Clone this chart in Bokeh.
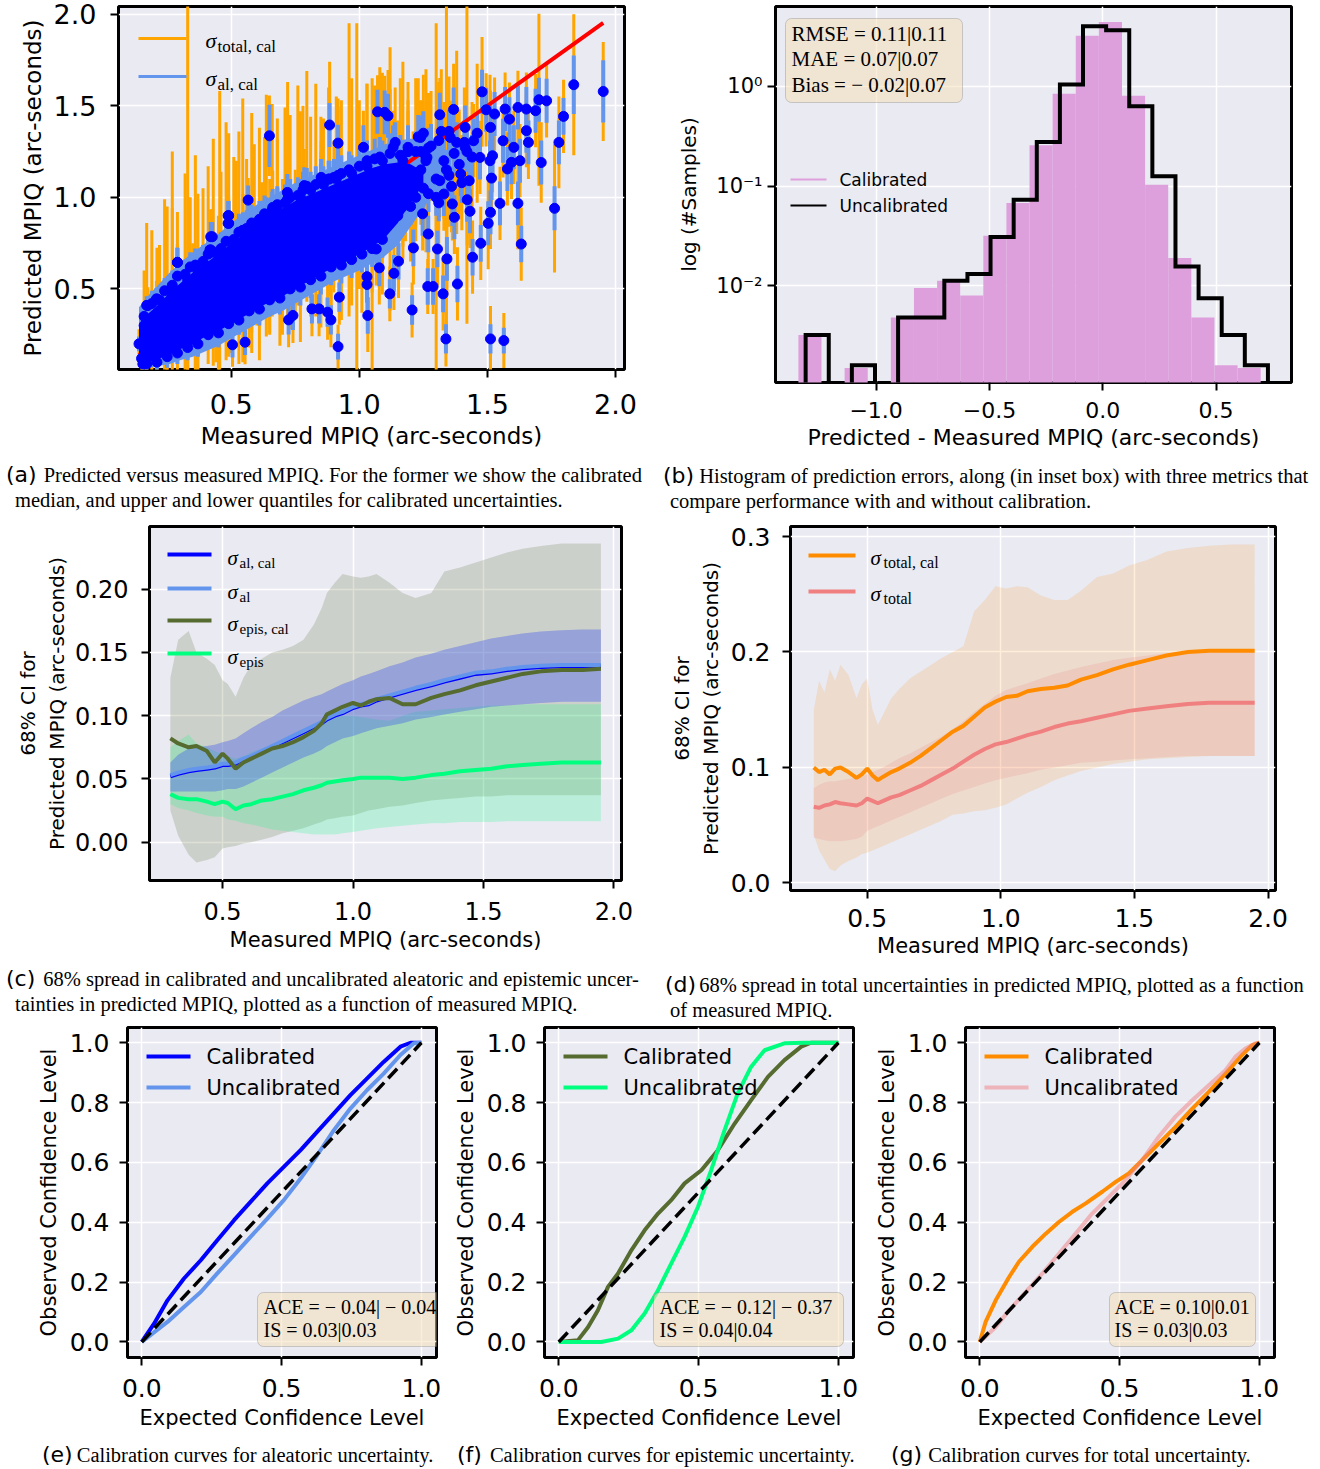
import math
from bokeh.plotting import figure
from bokeh.models import (Range1d, FixedTicker, Label, BoxAnnotation, Div,
                          CustomJSTickFormatter, ColumnDataSource)
from bokeh.layouts import row, column
from bokeh.embed import file_html
from bokeh.resources import INLINE

SANS = "DejaVu Sans"
SERIF = "Liberation Serif"
BG = "#EAEAF2"

# ================= (a) predicted vs measured =================
core_meas = [0.15, 0.16, 0.17, 0.19, 0.21, 0.23, 0.25, 0.27, 0.29, 0.33,
             0.31, 0.37, 0.36, 0.41, 0.42, 0.42, 0.455, 0.44, 0.49, 0.49,
             0.52, 0.50, 0.545, 0.566, 0.59, 0.58, 0.637, 0.65, 0.68, 0.72,
             0.70, 0.77, 0.795, 0.75, 0.85, 0.884, 0.83, 0.917, 0.96, 0.99,
             0.90, 1.03, 1.05, 1.08, 1.12, 1.00, 1.17, 1.15, 1.22, 1.26,
             1.30, 1.34, 1.38, 1.42, 1.46, 1.51, 1.20, 1.25, 1.10, 0.95,
             0.80, 0.60, 0.70, 0.40, 0.30, 0.20, 0.55, 0.65, 0.85, 0.75,
             0.45, 0.35, 0.25, 0.14, 0.155]
core_pred = [0.12, 0.30, 0.41, 0.22, 0.445, 0.35, 0.40, 0.47, 0.645, 0.55,
             0.28, 0.60, 0.22, 0.62, 0.785, 0.713, 0.70, 0.30, 0.90, 0.858,
             0.75, 0.40, 0.82, 0.985, 0.85, 0.45, 0.90, 0.55, 0.95, 0.99,
             0.60, 1.00, 1.06, 0.65, 1.08, 1.10, 0.70, 1.12, 1.15, 0.95,
             0.78, 1.20, 0.85, 1.22, 1.10, 0.80, 1.20, 0.90, 1.25, 1.20,
             1.00, 1.15, 1.30, 1.25, 1.35, 1.20, 0.95, 1.05, 0.95, 0.90,
             0.85, 0.60, 0.80, 0.45, 0.38, 0.18, 0.55, 0.75, 0.95, 0.85,
             0.60, 0.50, 0.27, 0.20, 0.09]
core_err_al = [0.04, 0.05, 0.05, 0.04, 0.06, 0.05, 0.06, 0.07, 0.08, 0.08,
               0.05, 0.08, 0.05, 0.08, 0.08, 0.07, 0.09, 0.06, 0.08, 0.07,
               0.09, 0.07, 0.09, 0.08, 0.09, 0.08, 0.10, 0.08, 0.10, 0.10,
               0.09, 0.10, 0.10, 0.09, 0.10, 0.10, 0.10, 0.10, 0.10, 0.11,
               0.10, 0.11, 0.10, 0.11, 0.10, 0.10, 0.11, 0.10, 0.11, 0.11,
               0.10, 0.11, 0.11, 0.11, 0.11, 0.11, 0.10, 0.10, 0.10, 0.10,
               0.10, 0.08, 0.09, 0.07, 0.06, 0.05, 0.08, 0.09, 0.10, 0.10,
               0.08, 0.07, 0.05, 0.04, 0.04]
core_err_tot = [0.08, 0.12, 0.45, 0.10, 0.28, 0.12, 0.55, 0.78, 0.10, 1.50,
                0.15, 0.42, 0.15, 0.18, 0.15, 0.12, 0.88, 0.20, 0.45, 0.15,
                0.45, 0.25, 0.72, 0.12, 0.44, 0.30, 0.66, 0.30, 0.48, 0.64,
                0.35, 0.47, 0.63, 0.30, 0.36, 0.64, 0.35, 0.42, 0.80, 1.00,
                0.30, 0.42, 0.80, 0.49, 0.72, 0.30, 0.54, 0.30, 0.40, 0.50,
                0.95, 0.90, 0.50, 0.94, 0.38, 0.47, 0.30, 0.25, 0.25, 0.25,
                0.25, 0.30, 0.30, 0.25, 0.20, 0.10, 0.35, 0.35, 0.30, 0.30,
                0.30, 0.25, 0.15, 0.08, 0.06]

# points on the upper / lower rim of the dense cloud
rim_hi_meas = [0.16, 0.19, 0.22, 0.24, 0.27, 0.29, 0.32, 0.34, 0.36, 0.39,
               0.41, 0.43, 0.46, 0.48, 0.51, 0.53, 0.56, 0.58, 0.61, 0.63,
               0.66, 0.68, 0.71, 0.73, 0.76, 0.78, 0.81, 0.83, 0.86, 0.88,
               0.91, 0.93, 0.97, 1.00, 1.03, 1.06, 1.09, 1.12, 1.16, 1.19]
rim_hi_pred = [0.35, 0.42, 0.44, 0.49, 0.52, 0.57, 0.58, 0.62, 0.63, 0.65,
               0.69, 0.70, 0.72, 0.76, 0.77, 0.81, 0.83, 0.86, 0.88, 0.91,
               0.93, 0.96, 0.97, 1.00, 1.01, 1.04, 1.04, 1.07, 1.07, 1.10,
               1.10, 1.13, 1.13, 1.17, 1.17, 1.21, 1.20, 1.24, 1.23, 1.25]
rim_hi_err_al = [0.06, 0.07, 0.07, 0.07, 0.08, 0.08, 0.08, 0.08, 0.09, 0.09,
                 0.09, 0.09, 0.09, 0.09, 0.10, 0.10, 0.10, 0.10, 0.10, 0.10,
                 0.10, 0.10, 0.10, 0.10, 0.10, 0.10, 0.10, 0.10, 0.10, 0.10,
                 0.10, 0.10, 0.10, 0.10, 0.11, 0.11, 0.11, 0.11, 0.11, 0.11]
rim_hi_err_tot = [0.25, 0.40, 0.30, 0.50, 0.42, 0.35, 0.55, 0.38, 0.60, 0.40,
                  0.48, 0.62, 0.42, 0.65, 0.45, 0.55, 0.38, 0.60, 0.50, 0.42,
                  0.58, 0.36, 0.52, 0.45, 0.60, 0.46, 0.40, 0.55, 0.36, 0.50,
                  0.45, 0.40, 0.52, 0.36, 0.45, 0.40, 0.48, 0.35, 0.42, 0.38]
rim_lo_meas = [0.17, 0.21, 0.25, 0.29, 0.33, 0.37, 0.41, 0.45, 0.49, 0.53,
               0.57, 0.61, 0.65, 0.69, 0.73, 0.77, 0.81, 0.85, 0.89, 0.93,
               0.97, 1.01, 1.05, 1.09]
rim_lo_pred = [0.09, 0.10, 0.13, 0.15, 0.18, 0.20, 0.25, 0.26, 0.31, 0.33,
               0.38, 0.39, 0.44, 0.45, 0.50, 0.51, 0.55, 0.57, 0.62, 0.63,
               0.66, 0.69, 0.72, 0.77]
rim_lo_err_al = [0.05, 0.05, 0.06, 0.06, 0.07, 0.07, 0.07, 0.08, 0.08, 0.08,
                 0.08, 0.09, 0.09, 0.09, 0.09, 0.10, 0.10, 0.10, 0.10, 0.10,
                 0.10, 0.10, 0.10, 0.10]
rim_lo_err_tot = [0.10, 0.14, 0.12, 0.20, 0.15, 0.22, 0.16, 0.25, 0.18, 0.24,
                  0.20, 0.28, 0.18, 0.26, 0.22, 0.30, 0.20, 0.28, 0.22, 0.30,
                  0.25, 0.32, 0.24, 0.30]

# looser cloud between 1.1 and 1.45 arc-seconds
cloud_meas = [1.12, 1.15, 1.18, 1.21, 1.24, 1.27, 1.30, 1.33, 1.36, 1.39,
              1.14, 1.19, 1.23, 1.28, 1.32, 1.37, 1.41, 1.17, 1.22, 1.26,
              1.31, 1.35, 1.40, 1.44, 1.25, 1.24, 1.27, 1.31, 1.35]
cloud_pred = [1.05, 1.12, 0.98, 1.08, 1.15, 1.02, 1.10, 1.20, 1.06, 1.18,
              1.30, 1.25, 1.33, 1.28, 1.36, 1.24, 1.30, 0.95, 1.00, 1.22,
              0.97, 1.12, 1.08, 1.22, 1.35, 1.25, 1.27, 1.31, 1.36]
cloud_err_al = [0.10, 0.11, 0.10, 0.11, 0.11, 0.10, 0.11, 0.12, 0.11, 0.12,
                0.11, 0.11, 0.12, 0.12, 0.12, 0.11, 0.12, 0.10, 0.10, 0.11,
                0.10, 0.11, 0.11, 0.12, 0.12, 0.11, 0.11, 0.12, 0.12]
cloud_err_tot = [0.25, 0.30, 0.22, 0.28, 0.30, 0.24, 0.28, 0.32, 0.25, 0.30,
                 0.30, 0.28, 0.32, 0.30, 0.34, 0.28, 0.30, 0.22, 0.24, 0.30,
                 0.22, 0.28, 0.26, 0.30, 0.32, 0.28, 0.30, 0.32, 0.30]

outer_meas = [0.649, 0.884, 0.917, 1.071, 1.099, 1.112, 1.368, 1.314, 1.479, 1.495,
              1.837, 1.952, 1.797, 1.779, 1.710, 1.762, 1.701, 1.731, 1.688, 1.632,
              1.619, 1.549, 1.512, 1.503, 1.516, 1.474, 1.442, 1.432, 1.421, 1.383,
              1.342, 1.327, 1.338, 1.512, 1.564, 1.267, 1.288, 1.305, 1.269, 1.211,
              1.206, 1.119, 1.135, 1.153, 1.030, 1.030, 1.033, 1.078, 1.066, 0.922,
              0.917, 0.889, 0.876, 0.843, 0.815, 0.741, 0.724, 0.554, 0.505, 0.290,
              0.175, 0.208, 0.488, 0.488, 0.426, 0.417, 0.459, 1.578, 1.603, 1.660,
              1.652, 1.586, 1.619, 1.569, 1.528, 1.652, 1.512, 1.413, 1.413, 1.471,
              1.520, 1.594, 1.627, 1.355, 1.396, 1.429, 1.330, 1.363, 1.371, 1.247,
              1.239, 1.190, 1.132, 1.016, 0.901, 0.851, 0.785, 0.719, 0.662, 0.620,
              0.546, 1.314, 1.264, 1.198, 1.446, 1.561]
outer_pred = [1.336, 1.395, 1.296, 1.467, 1.464, 1.445, 1.480, 1.451, 1.576, 1.478,
              1.615, 1.578, 1.442, 1.300, 1.190, 0.940, 1.533, 1.527, 1.473, 0.745,
              0.967, 0.967, 0.918, 0.858, 1.105, 0.749, 0.673, 0.924, 0.987, 0.527,
              0.664, 0.473, 0.227, 0.227, 0.218, 0.513, 0.513, 0.718, 0.800, 0.724,
              0.385, 0.473, 0.585, 0.651, 0.567, 0.524, 0.355, 0.615, 0.718, 0.455,
              0.185, 0.331, 0.373, 0.391, 0.391, 0.355, 0.331, 0.209, 0.195, 0.645,
              0.409, 0.445, 0.900, 0.858, 0.785, 0.713, 0.705, 1.155, 1.273, 1.300,
              1.364, 1.427, 1.491, 1.482, 1.455, 1.482, 1.382, 1.382, 1.273, 1.218,
              1.227, 1.191, 1.200, 1.327, 1.127, 1.091, 1.018, 0.964, 0.891, 0.910,
              1.327, 1.273, 1.273, 1.273, 1.109, 1.109, 1.064, 1.027, 0.945, 0.882,
              0.818, 1.091, 1.218, 1.118, 1.309, 1.309]
outer_err_al = [0.17, 0.12, 0.10, 0.12, 0.12, 0.12, 0.12, 0.12, 0.12, 0.12,
                0.16, 0.17, 0.10, 0.12, 0.12, 0.12, 0.12, 0.12, 0.12, 0.10,
                0.12, 0.12, 0.12, 0.12, 0.12, 0.10, 0.10, 0.12, 0.12, 0.10,
                0.12, 0.10, 0.08, 0.08, 0.07, 0.10, 0.10, 0.10, 0.10, 0.10,
                0.08, 0.08, 0.10, 0.10, 0.10, 0.10, 0.10, 0.10, 0.10, 0.08,
                0.07, 0.08, 0.08, 0.08, 0.08, 0.08, 0.08, 0.07, 0.07, 0.08,
                0.05, 0.06, 0.08, 0.07, 0.08, 0.07, 0.07, 0.12, 0.12, 0.12,
                0.12, 0.12, 0.12, 0.12, 0.12, 0.12, 0.12, 0.12, 0.12, 0.12,
                0.12, 0.12, 0.12, 0.12, 0.12, 0.12, 0.12, 0.12, 0.12, 0.12,
                0.12, 0.12, 0.12, 0.12, 0.10, 0.10, 0.10, 0.10, 0.10, 0.10,
                0.10, 0.12, 0.12, 0.12, 0.12, 0.12]
outer_err_tot = [0.22, 0.20, 0.20, 0.20, 0.20, 0.25, 0.25, 0.20, 0.30, 0.20,
                 0.385, 0.27, 0.20, 0.25, 0.22, 0.35, 0.47, 0.20, 0.20, 0.20,
                 0.25, 0.20, 0.20, 0.25, 0.20, 0.20, 0.20, 0.20, 0.25, 0.20,
                 0.20, 0.20, 0.15, 0.18, 0.15, 0.15, 0.15, 0.20, 0.20, 0.20,
                 0.15, 0.15, 0.20, 0.20, 0.20, 0.20, 0.20, 0.20, 0.20, 0.15,
                 0.12, 0.15, 0.15, 0.15, 0.15, 0.15, 0.15, 0.12, 0.12, 0.10,
                 0.10, 0.10, 0.15, 0.15, 0.15, 0.12, 0.12, 0.20, 0.20, 0.20,
                 0.20, 0.20, 0.20, 0.20, 0.20, 0.20, 0.20, 0.20, 0.20, 0.20,
                 0.20, 0.20, 0.20, 0.20, 0.20, 0.20, 0.20, 0.20, 0.20, 0.20,
                 0.20, 0.20, 0.20, 0.20, 0.20, 0.20, 0.20, 0.20, 0.20, 0.20,
                 0.20, 0.20, 0.20, 0.20, 0.20, 0.20]

# dense core of the point cloud (solid blue) and its aleatoric-bar fringe
dense_x = [0.14, 0.18, 0.22, 0.26, 0.30, 0.35, 0.40, 0.45, 0.50, 0.55, 0.60, 0.65,
           0.70, 0.75, 0.80, 0.85, 0.90, 0.95, 1.00, 1.05, 1.10, 1.15, 1.20, 1.25]
dense_hi = [0.30, 0.37, 0.42, 0.48, 0.53, 0.59, 0.64, 0.69, 0.75, 0.80, 0.85, 0.90,
            0.94, 0.98, 1.01, 1.04, 1.07, 1.10, 1.13, 1.16, 1.18, 1.19, 1.18, 1.14]
dense_lo = [0.09, 0.10, 0.12, 0.14, 0.17, 0.20, 0.24, 0.27, 0.31, 0.35, 0.39, 0.43,
            0.46, 0.50, 0.54, 0.58, 0.62, 0.65, 0.69, 0.73, 0.78, 0.86, 0.97, 1.07]
fringe_x = [0.14, 0.18, 0.22, 0.26, 0.30, 0.35, 0.40, 0.45, 0.50, 0.55, 0.60, 0.65,
            0.70, 0.75, 0.80, 0.85, 0.90, 0.95, 1.00, 1.05, 1.10, 1.15, 1.20, 1.26, 1.33]
fringe_hi = [0.40, 0.47, 0.53, 0.59, 0.64, 0.70, 0.75, 0.80, 0.86, 0.91, 0.96, 1.00,
             1.04, 1.08, 1.11, 1.14, 1.17, 1.20, 1.23, 1.26, 1.29, 1.31, 1.32, 1.32, 1.28]
fringe_lo = [0.07, 0.07, 0.08, 0.09, 0.11, 0.13, 0.16, 0.19, 0.23, 0.27, 0.31, 0.35,
             0.38, 0.42, 0.46, 0.50, 0.54, 0.57, 0.60, 0.64, 0.68, 0.74, 0.84, 0.96, 1.12]

# ================= (b) histogram of errors =================
cal_edges = [-1.343, -1.241, -1.139, -1.037, -0.935, -0.833, -0.731, -0.629, -0.527, -0.425,
             -0.323, -0.221, -0.119, -0.017, 0.085, 0.187, 0.289, 0.391, 0.493, 0.595, 0.697]
cal_counts = [0.0032, 0, 0.0015, 0, 0.0048, 0.0095, 0.0112, 0.0080, 0.0318, 0.0676,
              0.256, 0.844, 3.22, 4.42, 0.806, 0.103, 0.019, 0.0048, 0.0016, 0.0015]
unc_edges = [-1.311, -1.209, -1.107, -1.005, -0.903, -0.801, -0.699, -0.597, -0.495, -0.393,
             -0.291, -0.189, -0.087, 0.015, 0.117, 0.219, 0.321, 0.423, 0.525, 0.627, 0.729]
unc_counts = [0.0032, 0, 0.0016, 0, 0.0048, 0.0048, 0.0112, 0.0131, 0.0309, 0.073,
              0.276, 1.04, 4.0, 3.65, 0.63, 0.125, 0.0156, 0.0075, 0.0032, 0.0016]
metrics_b = ["RMSE = 0.11|0.11", "MAE = 0.07|0.07", "Bias = − 0.02|0.07"]

# ================= (c) aleatoric / epistemic spread =================
cx = [0.30, 0.33, 0.37, 0.40, 0.44, 0.47, 0.50, 0.52, 0.55, 0.58,
      0.61, 0.65, 0.69, 0.73, 0.77, 0.81, 0.85, 0.88, 0.90, 0.93,
      0.96, 1.00, 1.03, 1.06, 1.09, 1.14, 1.19, 1.24, 1.30, 1.35,
      1.41, 1.47, 1.53, 1.59, 1.65, 1.72, 1.80, 1.88, 1.95]
al = [0.053, 0.055, 0.057, 0.058, 0.059, 0.060, 0.062, 0.062, 0.063, 0.066,
      0.068, 0.072, 0.076, 0.080, 0.084, 0.088, 0.092, 0.095, 0.098, 0.101,
      0.103, 0.107, 0.109, 0.110, 0.113, 0.116, 0.119, 0.122, 0.125, 0.128,
      0.131, 0.134, 0.135, 0.137, 0.1385, 0.1395, 0.140, 0.140, 0.140]
al_cal = [0.052, 0.054, 0.056, 0.057, 0.058, 0.059, 0.061, 0.061, 0.062, 0.065,
          0.067, 0.071, 0.075, 0.079, 0.083, 0.087, 0.091, 0.094, 0.097, 0.100,
          0.102, 0.106, 0.108, 0.109, 0.112, 0.115, 0.118, 0.121, 0.124, 0.127,
          0.130, 0.133, 0.134, 0.136, 0.1375, 0.1385, 0.139, 0.139, 0.139]
al_hi = [0.063, 0.069, 0.074, 0.075, 0.076, 0.077, 0.079, 0.080, 0.082, 0.086,
         0.090, 0.095, 0.099, 0.104, 0.108, 0.112, 0.115, 0.117, 0.119, 0.122,
         0.125, 0.128, 0.131, 0.133, 0.135, 0.139, 0.142, 0.146, 0.149, 0.152,
         0.155, 0.158, 0.161, 0.163, 0.165, 0.1665, 0.1675, 0.168, 0.168]
al_lo = [0.040, 0.040, 0.040, 0.040, 0.040, 0.040, 0.041, 0.042, 0.042, 0.044,
         0.047, 0.051, 0.055, 0.059, 0.063, 0.067, 0.070, 0.073, 0.076, 0.079,
         0.082, 0.084, 0.086, 0.088, 0.090, 0.092, 0.094, 0.097, 0.099, 0.101,
         0.103, 0.105, 0.107, 0.108, 0.109, 0.110, 0.111, 0.111, 0.111]
epis_cal = [0.082, 0.078, 0.075, 0.076, 0.072, 0.063, 0.070, 0.066, 0.058, 0.063,
            0.066, 0.070, 0.074, 0.076, 0.079, 0.083, 0.088, 0.094, 0.101, 0.104,
            0.107, 0.110, 0.108, 0.111, 0.113, 0.114, 0.109, 0.109, 0.114, 0.117,
            0.120, 0.124, 0.127, 0.130, 0.133, 0.135, 0.136, 0.136, 0.137]
epis_cal_hi = [0.130, 0.160, 0.167, 0.150, 0.145, 0.140, 0.128, 0.125, 0.115, 0.130,
               0.140, 0.145, 0.150, 0.152, 0.155, 0.160, 0.172, 0.185, 0.197, 0.205,
               0.212, 0.210, 0.209, 0.210, 0.212, 0.205, 0.197, 0.193, 0.197, 0.214,
               0.217, 0.221, 0.225, 0.229, 0.232, 0.234, 0.236, 0.236, 0.236]
epis_cal_lo = [0.025, 0.005, -0.010, -0.016, -0.014, -0.012, -0.005, -0.004, -0.003, -0.001,
               0.000, 0.002, 0.004, 0.007, 0.009, 0.011, 0.014, 0.016, 0.018, 0.019,
               0.020, 0.021, 0.023, 0.025, 0.026, 0.028, 0.029, 0.031, 0.033, 0.034,
               0.035, 0.036, 0.036, 0.037, 0.037, 0.037, 0.037, 0.037, 0.037]
epis = [0.038, 0.035, 0.034, 0.034, 0.032, 0.030, 0.032, 0.031, 0.026, 0.029,
        0.030, 0.033, 0.034, 0.036, 0.038, 0.041, 0.043, 0.045, 0.047, 0.048,
        0.049, 0.050, 0.051, 0.051, 0.051, 0.051, 0.050, 0.051, 0.053, 0.054,
        0.056, 0.057, 0.058, 0.060, 0.061, 0.062, 0.063, 0.063, 0.063]
epis_hi = [0.075, 0.080, 0.085, 0.078, 0.075, 0.072, 0.069, 0.068, 0.066, 0.068,
           0.071, 0.074, 0.077, 0.080, 0.084, 0.088, 0.090, 0.094, 0.097, 0.099,
           0.100, 0.100, 0.099, 0.098, 0.097, 0.096, 0.100, 0.103, 0.104, 0.105,
           0.106, 0.107, 0.108, 0.108, 0.109, 0.109, 0.109, 0.109, 0.109]
epis_lo = [0.030, 0.027, 0.025, 0.023, 0.021, 0.020, 0.020, 0.018, 0.017, 0.015,
           0.014, 0.012, 0.010, 0.009, 0.008, 0.007, 0.006, 0.006, 0.006, 0.006,
           0.007, 0.008, 0.009, 0.010, 0.011, 0.012, 0.013, 0.014, 0.015, 0.015,
           0.016, 0.016, 0.016, 0.0165, 0.0165, 0.0165, 0.0165, 0.0165, 0.0165]

# ================= (d) total spread =================
dx = [0.30, 0.32, 0.34, 0.36, 0.38, 0.40, 0.43, 0.46, 0.48, 0.50,
      0.52, 0.54, 0.56, 0.59, 0.62, 0.66, 0.70, 0.74, 0.78, 0.82,
      0.86, 0.90, 0.94, 0.98, 1.02, 1.06, 1.10, 1.15, 1.20, 1.25,
      1.30, 1.36, 1.42, 1.48, 1.55, 1.62, 1.70, 1.78, 1.86, 1.95]
tot_cal = [0.100, 0.096, 0.098, 0.094, 0.099, 0.100, 0.096, 0.091, 0.094, 0.099,
           0.093, 0.089, 0.092, 0.096, 0.099, 0.104, 0.110, 0.117, 0.124, 0.131,
           0.136, 0.144, 0.152, 0.157, 0.161, 0.162, 0.166, 0.168, 0.169, 0.171,
           0.176, 0.180, 0.185, 0.189, 0.193, 0.197, 0.200, 0.201, 0.201, 0.201]
tot = [0.066, 0.065, 0.067, 0.068, 0.070, 0.069, 0.068, 0.067, 0.069, 0.073,
       0.071, 0.069, 0.071, 0.074, 0.076, 0.080, 0.084, 0.089, 0.094, 0.099,
       0.105, 0.111, 0.116, 0.120, 0.122, 0.125, 0.128, 0.131, 0.135, 0.138,
       0.140, 0.143, 0.146, 0.149, 0.151, 0.153, 0.155, 0.156, 0.156, 0.156]
tot_cal_hi = [0.150, 0.175, 0.165, 0.185, 0.175, 0.189, 0.180, 0.160, 0.172, 0.177,
              0.150, 0.137, 0.146, 0.160, 0.168, 0.177, 0.183, 0.189, 0.195, 0.200,
              0.205, 0.235, 0.245, 0.257, 0.255, 0.257, 0.256, 0.249, 0.245, 0.245,
              0.253, 0.265, 0.268, 0.275, 0.280, 0.287, 0.290, 0.292, 0.293, 0.293]
tot_cal_lo = [0.042, 0.028, 0.020, 0.012, 0.010, 0.015, 0.019, 0.022, 0.025, 0.026,
              0.028, 0.030, 0.032, 0.035, 0.038, 0.042, 0.046, 0.050, 0.054, 0.059,
              0.060, 0.062, 0.063, 0.065, 0.068, 0.073, 0.078, 0.083, 0.089, 0.093,
              0.097, 0.100, 0.103, 0.105, 0.107, 0.108, 0.109, 0.110, 0.110, 0.110]
tot_hi = [0.082, 0.085, 0.087, 0.088, 0.088, 0.089, 0.090, 0.091, 0.092, 0.094,
          0.096, 0.098, 0.100, 0.104, 0.108, 0.112, 0.117, 0.122, 0.127, 0.133,
          0.140, 0.148, 0.155, 0.162, 0.167, 0.170, 0.173, 0.177, 0.181, 0.184,
          0.187, 0.190, 0.193, 0.195, 0.197, 0.199, 0.200, 0.201, 0.201, 0.201]
tot_lo = [0.039, 0.038, 0.037, 0.036, 0.036, 0.036, 0.037, 0.038, 0.040, 0.045,
          0.047, 0.049, 0.051, 0.054, 0.057, 0.061, 0.065, 0.069, 0.073, 0.077,
          0.080, 0.083, 0.086, 0.089, 0.091, 0.093, 0.095, 0.098, 0.100, 0.102,
          0.104, 0.105, 0.106, 0.107, 0.108, 0.109, 0.110, 0.110, 0.110, 0.110]

# ================= (e)-(g) calibration curves =================
diag = [0.0, 1.0]
e_cal_x = [0.0, 0.044, 0.092, 0.151, 0.211, 0.27, 0.33, 0.389, 0.449, 0.508, 0.568, 0.627, 0.687, 0.746, 0.806, 0.865, 0.925, 0.961, 1.0]
e_cal_y = [0.0, 0.061, 0.139, 0.212, 0.273, 0.34, 0.407, 0.468, 0.53, 0.585, 0.641, 0.702, 0.764, 0.825, 0.881, 0.936, 0.987, 1.0, 1.0]
e_unc_x = [0.0, 0.092, 0.151, 0.211, 0.27, 0.33, 0.389, 0.449, 0.508, 0.568, 0.627, 0.687, 0.746, 0.806, 0.865, 0.925, 0.973, 1.0]
e_unc_y = [0.0, 0.067, 0.117, 0.167, 0.229, 0.29, 0.351, 0.412, 0.474, 0.546, 0.624, 0.708, 0.78, 0.842, 0.897, 0.959, 0.998, 1.0]
f_cal_x = [0.0, 0.069, 0.105, 0.14, 0.176, 0.212, 0.26, 0.307, 0.355, 0.402, 0.45, 0.51, 0.569, 0.629, 0.688, 0.748, 0.807, 0.867, 0.902, 1.0]
f_cal_y = [0.0, 0.006, 0.05, 0.106, 0.184, 0.229, 0.307, 0.373, 0.429, 0.474, 0.53, 0.574, 0.641, 0.73, 0.808, 0.886, 0.942, 0.987, 1.0, 1.0]
f_unc_x = [0.0, 0.152, 0.212, 0.26, 0.307, 0.355, 0.402, 0.45, 0.498, 0.545, 0.593, 0.64, 0.688, 0.736, 0.807, 0.879, 1.0]
f_unc_y = [0.0, 0.0, 0.011, 0.039, 0.095, 0.173, 0.262, 0.351, 0.452, 0.574, 0.708, 0.831, 0.92, 0.975, 0.998, 1.0, 1.0]
g_cal_x = [0.0, 0.021, 0.057, 0.105, 0.14, 0.188, 0.236, 0.283, 0.331, 0.379, 0.438, 0.486, 0.533, 0.581, 0.64, 0.7, 0.76, 0.819, 0.879, 0.938, 0.974, 1.0]
g_cal_y = [0.0, 0.067, 0.139, 0.217, 0.268, 0.318, 0.362, 0.401, 0.435, 0.463, 0.502, 0.535, 0.563, 0.608, 0.663, 0.719, 0.78, 0.836, 0.897, 0.959, 0.992, 1.0]
g_unc_x = [0.0, 0.057, 0.105, 0.164, 0.224, 0.283, 0.343, 0.402, 0.462, 0.521, 0.581, 0.64, 0.7, 0.76, 0.819, 0.879, 0.914, 0.95, 0.986, 1.0]
g_unc_y = [0.0, 0.05, 0.106, 0.167, 0.229, 0.295, 0.362, 0.429, 0.485, 0.541, 0.608, 0.686, 0.753, 0.808, 0.858, 0.908, 0.953, 0.981, 0.998, 1.0]
ace_e = ["ACE = − 0.04| − 0.04", "IS = 0.03|0.03"]
ace_f = ["ACE = − 0.12| − 0.37", "IS = 0.04|0.04"]
ace_g = ["ACE = 0.10|0.01", "IS = 0.03|0.03"]

# tick values / labels
ab_ticks = [0.5, 1.0, 1.5, 2.0]
ab_labels = ["0.5", "1.0", "1.5", "2.0"]
b_xticks = [-1.0, -0.5, 0.0, 0.5]
b_xlabels = ["−1.0", "−0.5", "0.0", "0.5"]
b_yticks = [0.01, 0.1, 1.0]
b_ylabels = ["10⁻²", "10⁻¹", "10⁰"]
c_yticks = [0.0, 0.05, 0.10, 0.15, 0.20]
c_ylabels = ["0.00", "0.05", "0.10", "0.15", "0.20"]
d_yticks = [0.0, 0.1, 0.2, 0.3]
d_ylabels = ["0.0", "0.1", "0.2", "0.3"]
cal_xticks = [0.0, 0.5, 1.0]
cal_xlabels = ["0.0", "0.5", "1.0"]
cal_yticks = [0.0, 0.2, 0.4, 0.6, 0.8, 1.0]
cal_ylabels = ["0.0", "0.2", "0.4", "0.6", "0.8", "1.0"]


# ================= helpers =================
def tick_fmt(ticks, labels):
    return CustomJSTickFormatter(args=dict(t=list(ticks), l=list(labels)), code="""
for (let i = 0; i < t.length; i++) {
  if (Math.abs(t[i] - tick) <= 1e-6 * Math.max(1e-9, Math.abs(t[i]))) return l[i];
}
return "";
""")


def make_fig(xr, yr, bl, fw, br, bt, fh, bb, ylog=False):
    p = figure(x_range=Range1d(xr[0], xr[1]), y_range=Range1d(yr[0], yr[1]),
               frame_width=fw, frame_height=fh,
               min_border_left=bl, min_border_right=br,
               min_border_top=bt, min_border_bottom=bb,
               y_axis_type=("log" if ylog else "linear"),
               output_backend="svg", toolbar_location=None)
    p.background_fill_color = BG
    p.border_fill_color = "white"
    p.outline_line_color = "black"
    p.outline_line_width = 3
    p.outline_line_alpha = 1.0
    p.xgrid.grid_line_color = "white"
    p.ygrid.grid_line_color = "white"
    p.xgrid.grid_line_width = 1.5
    p.ygrid.grid_line_width = 1.5
    return p


def style_axes(p, xt, xl, yt, yl, xtick_px, ytick_px, xlab, ylab, xlab_px, ylab_px,
               xstd, xlstd, ystd, ylstd):
    xa, ya = p.xaxis[0], p.yaxis[0]
    xa.ticker = FixedTicker(ticks=list(xt))
    ya.ticker = FixedTicker(ticks=list(yt))
    xa.formatter = tick_fmt(xt, xl)
    ya.formatter = tick_fmt(yt, yl)
    xa.axis_label = xlab
    ya.axis_label = ylab
    for ax, tp, lp in ((xa, xtick_px, xlab_px), (ya, ytick_px, ylab_px)):
        ax.axis_line_color = None
        ax.major_tick_line_color = "black"
        ax.major_tick_line_width = 2
        ax.major_tick_out = 8
        ax.major_tick_in = 0
        ax.minor_tick_line_color = None
        ax.major_label_text_font = SANS
        ax.major_label_text_font_size = f"{tp}px"
        ax.major_label_text_color = "black"
        ax.axis_label_text_font = SANS
        ax.axis_label_text_font_size = f"{lp}px"
        ax.axis_label_text_font_style = "normal"
        ax.axis_label_text_color = "black"
    xa.major_label_standoff = xstd
    xa.axis_label_standoff = xlstd
    ya.major_label_standoff = ystd
    ya.axis_label_standoff = ylstd


def conv(xr, yr, fl, ft, fw, fh, ylog=False):
    """map page pixel position (reference layout) to data coordinates"""
    def f(px, py):
        x = xr[0] + (px - fl) / fw * (xr[1] - xr[0])
        if ylog:
            a, b = math.log10(yr[0]), math.log10(yr[1])
            y = 10 ** (b - (py - ft) / fh * (b - a))
        else:
            y = yr[1] - (py - ft) / fh * (yr[1] - yr[0])
        return x, y
    return f


def txt(p, f, px, py, text, size, font=SANS, style="normal", align="left"):
    x, y = f(px, py)
    p.add_layout(Label(x=x, y=y, text=text, text_font=font, text_font_size=f"{size}px",
                       text_font_style=style, text_align=align, text_baseline="middle",
                       text_color="black"))


def leg_line(p, f, x0, x1, py, color, width, alpha=1.0):
    a0, b0 = f(x0, py)
    a1, _ = f(x1, py)
    p.line([a0, a1], [b0, b0], line_color=color, line_width=width, line_alpha=alpha)


def inset(p, f, l, t, r, b):
    x0, y0 = f(l, b)
    x1, y1 = f(r, t)
    p.add_layout(BoxAnnotation(left=x0, right=x1, bottom=y0, top=y1,
                               fill_color="#F5DEB3", fill_alpha=0.5,
                               line_color="#7f7f7f", line_alpha=0.35, line_width=1,
                               border_radius=6))


# ================= panel (a) =================
xr_a, yr_a = (0.06, 2.035), (0.06, 2.042)
pa = make_fig(xr_a, yr_a, 118, 506, 36, 6, 363, 93)
style_axes(pa, ab_ticks, ab_labels, ab_ticks, ab_labels, 27, 27,
           "Measured MPIQ (arc-seconds)", "Predicted MPIQ (arc-seconds)", 23, 23,
           16, 6, 14, 5)
meas = core_meas + rim_hi_meas + rim_lo_meas + cloud_meas + outer_meas
pred = core_pred + rim_hi_pred + rim_lo_pred + cloud_pred + outer_pred
e_al = core_err_al + rim_hi_err_al + rim_lo_err_al + cloud_err_al + outer_err_al
e_tot = core_err_tot + rim_hi_err_tot + rim_lo_err_tot + cloud_err_tot + outer_err_tot
src_a = ColumnDataSource(dict(
    x=meas, y=pred,
    tlo=[v - e for v, e in zip(pred, e_tot)], thi=[v + e for v, e in zip(pred, e_tot)],
    alo=[v - e for v, e in zip(pred, e_al)], ahi=[v + e for v, e in zip(pred, e_al)]))
pa.segment(x0="x", y0="tlo", x1="x", y1="thi", source=src_a, line_color="#FFA500", line_width=3)
pa.varea(x=fringe_x, y1=fringe_lo, y2=fringe_hi, fill_color="#6495ED")
pa.segment(x0="x", y0="alo", x1="x", y1="ahi", source=src_a, line_color="#6495ED", line_width=4)
lo_m, hi_m = min(meas), max(meas)
pa.line([lo_m, hi_m], [lo_m, hi_m], line_color="#FF0000", line_width=4)
pa.varea(x=dense_x, y1=dense_lo, y2=dense_hi, fill_color="#0000FF")
pa.scatter("x", "y", source=src_a, size=10, fill_color="#0000FF", line_color="#0000FF")
fa = conv(xr_a, yr_a, 118, 6, 506, 363)
leg_line(pa, fa, 138, 186, 38, "#FFA500", 3)
leg_line(pa, fa, 138, 186, 76, "#6495ED", 3)
txt(pa, fa, 205, 40, "σ", 22, SERIF, "italic")
txt(pa, fa, 217, 46, "total, cal", 17, SERIF)
txt(pa, fa, 205, 78, "σ", 22, SERIF, "italic")
txt(pa, fa, 217, 84, "al, cal", 17, SERIF)

# ================= panel (b) =================
xr_b, yr_b = (-1.444, 0.833), (10 ** -2.97, 10 ** 0.80)
pb = make_fig(xr_b, yr_b, 115, 516, 25, 2, 376, 84, ylog=True)
style_axes(pb, b_xticks, b_xlabels, b_yticks, b_ylabels, 22, 21,
           "Predicted - Measured MPIQ (arc-seconds)", "log (#Samples)", 22, 20,
           11, 4, 5, 12)
floor = 1e-4
cl, cr, ct = [], [], []
for i, c in enumerate(cal_counts):
    if c > 0:
        cl.append(cal_edges[i]); cr.append(cal_edges[i + 1]); ct.append(c)
pb.quad(left=cl, right=cr, bottom=floor, top=ct, fill_color="#DDA0DD", line_color=None)
sx, sy = [unc_edges[0]], [floor]
for i, c in enumerate(unc_counts):
    h = c if c > 0 else floor
    sx += [unc_edges[i], unc_edges[i + 1]]
    sy += [h, h]
sx.append(unc_edges[-1]); sy.append(floor)
pb.line(sx, sy, line_color="black", line_width=4, line_join="miter")
fb = conv(xr_b, yr_b, 775, 2, 516, 376, ylog=True)
inset(pb, fb, 785, 14, 962, 98)
for k, s in enumerate(metrics_b):
    txt(pb, fb, 791, 29 + 25.5 * k, s, 21, SERIF)
leg_line(pb, fb, 790, 826, 175, "#DDA0DD", 2)
leg_line(pb, fb, 790, 826, 201, "black", 2)
txt(pb, fb, 839, 175, "Calibrated", 17)
txt(pb, fb, 839, 201, "Uncalibrated", 17)

# ================= panel (c) =================
xr_c, yr_c = (0.22, 2.029), (-0.0303, 0.2495)
pc = make_fig(xr_c, yr_c, 149, 472, 39, 8, 354, 86)
style_axes(pc, ab_ticks, ab_labels, c_yticks, c_ylabels, 24, 24,
           "Measured MPIQ (arc-seconds)", "68% CI for\nPredicted MPIQ (arc-seconds)", 21, 20,
           13, 5, 13, 3)
pc.varea(x=cx, y1=epis_cal_lo, y2=epis_cal_hi, fill_color="#556B2F", fill_alpha=0.2)
pc.varea(x=cx, y1=epis_lo, y2=epis_hi, fill_color="#00FF7F", fill_alpha=0.2)
pc.varea(x=cx, y1=al_lo, y2=al_hi, fill_color="#0000FF", fill_alpha=0.2)
pc.varea(x=cx, y1=al_lo, y2=al_hi, fill_color="#6495ED", fill_alpha=0.2)
pc.line(cx, al_cal, line_color="#0000FF", line_width=4)
pc.line(cx, al, line_color="#6495ED", line_width=4)
pc.line(cx, epis_cal, line_color="#556B2F", line_width=4)
pc.line(cx, epis, line_color="#00FF7F", line_width=4)
fc = conv(xr_c, yr_c, 149, 526, 472, 354)
for py, col, sub in ((554, "#0000FF", "al, cal"), (588, "#6495ED", "al"),
                     (620, "#556B2F", "epis, cal"), (653, "#00FF7F", "epis")):
    leg_line(pc, fc, 167, 211, py, col, 4)
    txt(pc, fc, 227, py + 3, "σ", 21, SERIF, "italic")
    txt(pc, fc, 239, py + 8, sub, 15, SERIF)

# ================= panel (d) =================
xr_d, yr_d = (0.213, 2.028), (-0.0066, 0.3087)
pd_ = make_fig(xr_d, yr_d, 130, 485, 41, 2, 364, 82)
style_axes(pd_, ab_ticks, ab_labels, d_yticks, d_ylabels, 25, 25,
           "Measured MPIQ (arc-seconds)", "68% CI for\nPredicted MPIQ (arc-seconds)", 21, 20,
           10, 4, 12, 5)
pd_.varea(x=dx, y1=tot_cal_lo, y2=tot_cal_hi, fill_color="#FF8C00", fill_alpha=0.15)
pd_.varea(x=dx, y1=tot_lo, y2=tot_hi, fill_color="#F08080", fill_alpha=0.2)
pd_.line(dx, tot_cal, line_color="#FF8C00", line_width=4)
pd_.line(dx, tot, line_color="#F08080", line_width=4)
fd = conv(xr_d, yr_d, 790, 520, 485, 364)
for py, col, sub in ((549, "#FF8C00", "total, cal"), (585, "#F08080", "total")):
    leg_line(pd_, fd, 808, 855, py, col, 4)
    txt(pd_, fd, 870, py + 2, "σ", 21, SERIF, "italic")
    txt(pd_, fd, 883, py + 7, sub, 16, SERIF)

# ================= panels (e)-(g) =================
xr_c3, yr_c3 = (-0.051, 1.054), (-0.052, 1.051)


def cal_panel(bl, br, fl_abs, cal_x, cal_y, unc_x, unc_y, c_col, u_col, u_alpha):
    p = make_fig(xr_c3, yr_c3, bl, 309, br, 5, 330, 83)
    style_axes(p, cal_xticks, cal_xlabels, cal_yticks, cal_ylabels, 25, 25,
               "Expected Confidence Level", "Observed Confidence Level", 21, 21,
               13, 6, 10, 6)
    p.line(cal_x, cal_y, line_color=c_col, line_width=4)
    p.line(unc_x, unc_y, line_color=u_col, line_width=4, line_alpha=u_alpha)
    p.line(diag, diag, line_color="black", line_width=3.5, line_dash="13 6")
    f = conv(xr_c3, yr_c3, fl_abs, 1027, 309, 330)
    leg_line(p, f, fl_abs + 19, fl_abs + 63, 1056, c_col, 4)
    leg_line(p, f, fl_abs + 19, fl_abs + 63, 1087, u_col, 4, u_alpha)
    txt(p, f, fl_abs + 79, 1056, "Calibrated", 21)
    txt(p, f, fl_abs + 79, 1087, "Uncalibrated", 21)
    return p, f


pe, fe = cal_panel(127, 14, 127, e_cal_x, e_cal_y, e_unc_x, e_unc_y, "#0000FF", "#6495ED", 1.0)
inset(pe, fe, 257, 1292, 443, 1346)
txt(pe, fe, 263, 1306, ace_e[0], 20, SERIF)
txt(pe, fe, 263, 1329, ace_e[1], 20, SERIF)

pf, ff = cal_panel(93, 18, 543, f_cal_x, f_cal_y, f_unc_x, f_unc_y, "#556B2F", "#00FF7F", 1.0)
inset(pf, ff, 652, 1292, 842, 1346)
txt(pf, ff, 658, 1306, ace_f[0], 20, SERIF)
txt(pf, ff, 658, 1329, ace_f[1], 20, SERIF)

pg, fg = cal_panel(89, 48, 959, g_cal_x, g_cal_y, g_unc_x, g_unc_y, "#FF8C00", "#F08080", 0.5)
inset(pg, fg, 1103, 1292, 1249, 1346)
txt(pg, fg, 1108, 1306, ace_g[0], 20, SERIF)
txt(pg, fg, 1108, 1329, ace_g[1], 20, SERIF)


# ================= captions =================
def caption(tag, line1, line2, width, height, pad_left, gap, line2_x, pad_top):
    s = ('<div style="font-family:\'Liberation Serif\';font-size:20.5px;line-height:25px;'
         f'color:black;white-space:nowrap;padding-top:{pad_top}px;">')
    s += (f'<div style="padding-left:{pad_left}px"><span style="font-family:\'DejaVu Sans\';'
          f'font-size:22px">{tag}</span><span style="margin-left:{gap}px">{line1}</span></div>')
    if line2:
        s += f'<div style="padding-left:{line2_x}px">{line2}</div>'
    s += '</div>'
    return Div(text=s, width=width, height=height, margin=0,
               styles={"font-family": SERIF, "color": "black"})


ca = caption("(a)", "Predicted versus measured MPIQ. For the former we show the calibrated",
             "median, and upper and lower quantiles for calibrated uncertainties.",
             660, 56, 6, 7, 15, 0)
cb = caption("(b)", "Histogram of prediction errors, along (in inset box) with three metrics that",
             "compare performance with and without calibration.", 656, 56, 3, 5, 10, 1)
cc = caption("(c)", "68% spread in calibrated and uncalibrated aleatoric and epistemic uncer-",
             "tainties in predicted MPIQ, plotted as a function of measured MPIQ.",
             660, 56, 6, 8, 15, 0)
cd = caption("(d)", "68% spread in total uncertainties in predicted MPIQ, plotted as a function",
             "of measured MPIQ.", 656, 56, 5, 3, 10, 6)
ce = caption("(e)", "Calibration curves for aleatoric uncertainty.", None, 450, 25, 42, 4, 0, 2)
cf = caption("(f)", "Calibration curves for epistemic uncertainty.", None, 420, 25, 7, 8, 0, 2)
cg = caption("(g)", "Calibration curves for total uncertainty.", None, 446, 25, 21, 6, 0, 2)

layout = column(row(pa, pb), row(ca, cb), row(pc, pd_), row(cc, cd),
                row(pe, pf, pg), row(ce, cf, cg))

open("out.html", "w").write(file_html(layout, INLINE, title="MPIQ calibration figure"))
